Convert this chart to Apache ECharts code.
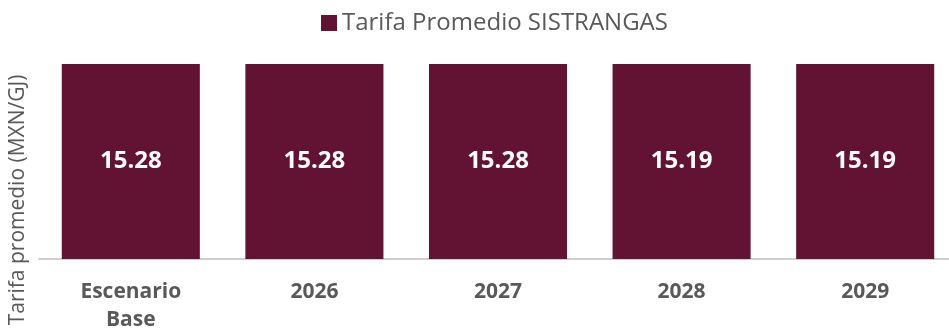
<!DOCTYPE html>
<html>
<head>
<meta charset="utf-8">
<script src="https://cdn.jsdelivr.net/npm/echarts@6/dist/echarts.min.js"></script>
<style>
  html, body { margin: 0; padding: 0; background: #fff; }
  #chart { width: 949px; height: 330px; }
</style>
</head>
<body>
<div id="chart"></div>
<script>
// Average SISTRANGAS tariff by scenario / year
const categories = ['Escenario\nBase', '2026', '2027', '2028', '2029'];
const tariffValues = [15.28, 15.28, 15.28, 15.19, 15.19];
const seriesName = 'Tarifa Promedio SISTRANGAS';
const yAxisTitle = 'Tarifa promedio (MXN/GJ)';

const FONT = '"Open Sans", "Noto Sans", sans-serif';
const BAR_COLOR = '#621233';
const TEXT_GREY = '#595959';

const chart = echarts.init(document.getElementById('chart'), null, { renderer: 'canvas' });

chart.setOption({
  animation: false,
  textStyle: { fontFamily: FONT },
  legend: {
    data: [seriesName],
    top: 6,
    left: 316,
    itemWidth: 16,
    itemHeight: 16,
    itemGap: 5,
    icon: 'rect',
    textStyle: { fontSize: 24, color: TEXT_GREY, fontFamily: FONT }
  },
  grid: {
    left: 39, width: 918, top: 64, height: 195,
    containLabel: false,
    outerBoundsMode: 'none'
  },
  xAxis: {
    type: 'category',
    data: categories,
    axisLine: { show: true, lineStyle: { color: '#bfbfbf', width: 1.5 } },
    axisTick: { show: false },
    axisLabel: {
      color: TEXT_GREY,
      fontSize: 21,
      fontWeight: 'bold',
      fontFamily: FONT,
      lineHeight: 28,
      margin: 19,
      interval: 0
    }
  },
  yAxis: {
    type: 'value',
    min: 0,
    max: 15,
    axisLine: { show: false },
    axisTick: { show: false },
    axisLabel: { show: false },
    splitLine: { show: false }
  },
  graphic: [{
    type: 'text',
    rotation: Math.PI / 2,
    x: 18,
    y: 200,
    style: {
      text: yAxisTitle,
      fill: TEXT_GREY,
      font: '21px ' + FONT,
      align: 'center',
      verticalAlign: 'middle'
    }
  }],
  series: [{
    name: seriesName,
    type: 'bar',
    data: tariffValues,
    clip: true,
    barCategoryGap: '24.8%',
    itemStyle: { color: BAR_COLOR },
    label: {
      show: true,
      position: 'inside',
      color: '#ffffff',
      fontWeight: 'bold',
      fontSize: 24,
      fontFamily: FONT,
      formatter: (p) => p.value.toFixed(2)
    }
  }]
});
</script>
</body>
</html>
